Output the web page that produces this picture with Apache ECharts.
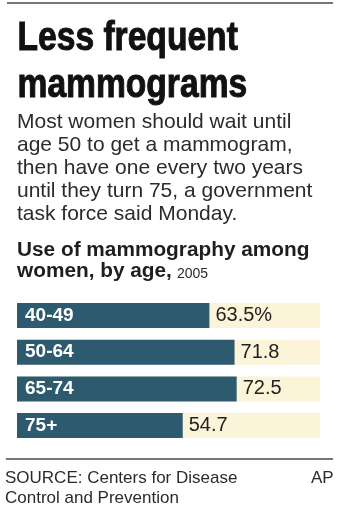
<!DOCTYPE html>
<html>
<head>
<meta charset="utf-8">
<script src="https://cdn.jsdelivr.net/npm/echarts@6/dist/echarts.min.js"></script>
<style>
html,body{margin:0;padding:0;background:#fff;}
#chart{width:340px;height:512px;}
</style>
</head>
<body>
<div id="chart"></div>
<script>
const categories = ['40-49', '50-64', '65-74', '75+'];
const values = [63.5, 71.8, 72.5, 54.7];
const valueLabels = ['63.5%', '71.8', '72.5', '54.7'];
const titleLines = ['Less frequent', 'mammograms'];
const bodyLines = [
  'Most women should wait until',
  'age 50 to get a mammogram,',
  'then have one every two years',
  'until they turn 75, a government',
  'task force said Monday.'
];
const subtitleLines = ['Use of mammography among', 'women, by age,'];
const subtitleYear = '2005';
const sourceLines = ['SOURCE: Centers for Disease', 'Control and Prevention'];
const credit = 'AP';

const chart = echarts.init(document.getElementById('chart'), null, {renderer: 'canvas'});
const sans = 'Liberation Sans, Arial, Helvetica, sans-serif';

const graphics = [
  {type: 'rect', shape: {x: 7, y: 2, width: 326, height: 2}, style: {fill: '#777'}},
  {type: 'rect', shape: {x: 6, y: 458, width: 327, height: 2}, style: {fill: '#777'}}
];
titleLines.forEach((t, i) => graphics.push({
  type: 'text', x: 17.5, y: 19 + i * 47, scaleX: 0.84, originX: 0,
  style: {text: t, font: 'bold 40px ' + sans, fill: '#111', stroke: '#111', lineWidth: 1}
}));
bodyLines.forEach((t, i) => graphics.push({
  type: 'text', x: 17, y: 112 + i * 23,
  style: {text: t, font: '21px ' + sans, fill: '#2b2b2b'}
}));
subtitleLines.forEach((t, i) => graphics.push({
  type: 'text', x: 17, y: 240.5 + i * 21, scaleX: 1.04, originX: 0,
  style: {text: t, font: 'bold 20px ' + sans, fill: '#1e1e1e'}
}));
graphics.push({
  type: 'text', x: 177, y: 267,
  style: {text: subtitleYear, font: '14px ' + sans, fill: '#2b2b2b'}
});
sourceLines.forEach((t, i) => graphics.push({
  type: 'text', x: 5, y: 470 + i * 19.5,
  style: {text: t, font: '17px ' + sans, fill: '#2b2b2b'}
}));
graphics.push({
  type: 'text', x: 311, y: 470,
  style: {text: credit, font: '17px ' + sans, fill: '#2b2b2b'}
});

chart.setOption({
  animation: false,
  grid: {left: 17, right: 20, top: 297.2, height: 146.7},
  xAxis: {type: 'value', min: 0, max: 100, show: false},
  yAxis: {
    type: 'category', data: categories, inverse: true, z: 10,
    axisLine: {show: false}, axisTick: {show: false}, splitLine: {show: false},
    axisLabel: {inside: true, margin: 8, align: 'left', color: '#fff', fontFamily: sans, fontWeight: 'bold', fontSize: 19}
  },
  series: [{
    type: 'bar', data: values, barWidth: 25,
    itemStyle: {color: '#2d5a6e'},
    showBackground: true,
    backgroundStyle: {color: '#fcf4d9'},
    label: {
      show: true, position: 'right', distance: 6,
      fontFamily: sans, fontSize: 20, color: '#222',
      formatter: p => valueLabels[p.dataIndex]
    }
  }],
  graphic: graphics
});
</script>
</body>
</html>
